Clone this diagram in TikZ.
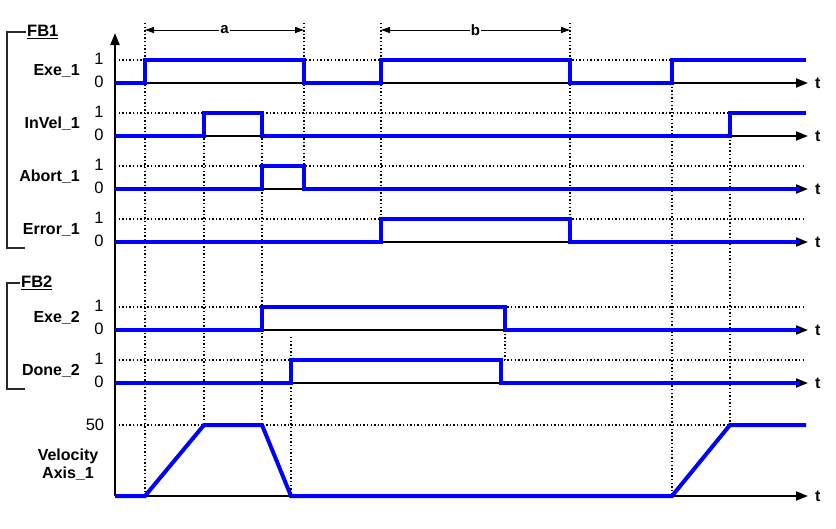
\documentclass[tikz,border=0pt]{standalone}
\usepackage{fontspec}
\setmainfont{Liberation Sans}
\usepackage{tikz}
\usetikzlibrary{arrows.meta, positioning}
\definecolor{sigblue}{RGB}{0,0,255}
\definecolor{brkgray}{RGB}{40,40,40}
\tikzset{
  sig/.style={line width=4pt, color=sigblue, line join=miter},
  guide/.style={line width=1.4pt, dash pattern=on 1.4pt off 2.2pt, color=black},
  base/.style={-{Triangle[length=12pt,width=9pt]}, line width=2pt, color=black},
  dimarrow/.style={{Triangle[length=9pt,width=6pt]}-{Triangle[length=9pt,width=6pt]}, line width=1pt},
  bracket/.style={line width=1.5pt, color=brkgray},
  siglabel/.style={font=\bfseries\fontsize{16}{18}\selectfont, anchor=east, inner sep=0pt},
  lvl/.style={font=\fontsize{16.5}{18}\selectfont, inner sep=0pt},
  tlabel/.style={font=\bfseries\fontsize{16}{18}\selectfont, inner sep=0pt},
  fblabel/.style={font=\bfseries\fontsize{16.5}{18}\selectfont, anchor=west, inner sep=1pt}
}
\begin{document}
\begin{tikzpicture}[x=1pt, y=-1pt]
  \useasboundingbox (0,0) rectangle (836,528);

  % group brackets
  \node[fblabel] (fbone) at (26,32) {\underline{FB1}};
  \draw[bracket] (fbone.west) -- (7,32) -- (7,248) -- (25,248);
  \node[fblabel] (fbtwo) at (20,283) {\underline{FB2}};
  \draw[bracket] (fbtwo.west) -- (7,283) -- (7,389) -- (25,389);

  % signal names
  \node[siglabel] (exeone) at (80,71) {Exe\_1};
  \node[siglabel] (invelone) at (80,124) {InVel\_1};
  \node[siglabel] (abortone) at (80,177) {Abort\_1};
  \node[siglabel] (errorone) at (80,230) {Error\_1};
  \node[siglabel] (exetwo) at (80,318) {Exe\_2};
  \node[siglabel] (donetwo) at (80,371) {Done\_2};
  \node[siglabel, anchor=center, align=center] (velo) at (68,465) {Velocity\\Axis\_1};

  % levels
  \node[lvl] (hione) at (99,59) {1};   \node[lvl] (loone) at (99,82) {0};
  \node[lvl] (hitwo) at (99,112) {1};  \node[lvl] (lotwo) at (99,135) {0};
  \node[lvl] (hithree) at (99,165) {1};\node[lvl] (lothree) at (99,188) {0};
  \node[lvl] (hifour) at (99,218) {1}; \node[lvl] (lofour) at (99,241) {0};
  \node[lvl] (hifive) at (99,306) {1}; \node[lvl] (lofive) at (99,329) {0};
  \node[lvl] (hisix) at (99,359) {1};  \node[lvl] (losix) at (99,382) {0};
  \node[lvl] (vmax) at (95,425) {50};

  % guide lines
  \foreach \y in {60,113,166,219,307,360}
    \draw[guide] (115,\y) -- (803,\y);
  \draw[guide] (115,425) -- (730,425);
  \draw[guide] (145,23) -- (145,496);
  \draw[guide] (204,113) -- (204,425);
  \draw[guide] (262,113) -- (262,425);
  \draw[guide] (304,23) -- (304,189);
  \draw[guide] (381,23) -- (381,219);
  \draw[guide] (570,23) -- (570,242);
  \draw[guide] (291,337) -- (291,496);
  \draw[guide] (505,330) -- (505,360);
  \draw[guide] (672,83) -- (672,496);
  \draw[guide] (730,136) -- (730,425);

  % time axes
  \draw[base] (115,496) -- (115,33);
  \foreach \y in {83,136,189,242,330,383,496}
    \draw[base] (115,\y) -- (808,\y) node[tlabel, right=6pt] {t};

  % intervals
  \draw[dimarrow] (145,30) -- node[fill=white, inner sep=1pt, font=\bfseries\fontsize{15}{17}\selectfont] (ia) {a} (304,30);
  \draw[dimarrow] (381,30) -- node[fill=white, inner sep=1pt, font=\bfseries\fontsize{15}{17}\selectfont] (ib) {b} (570,30);

  % signals
  \draw[sig] (115,83) -- (145,83) -- (145,60) -- (304,60) -- (304,83) -- (381,83) -- (381,60)
    -- (570,60) -- (570,83) -- (672,83) -- (672,60) -- (806,60);
  \draw[sig] (115,136) -- (204,136) -- (204,113) -- (262,113) -- (262,136) -- (730,136)
    -- (730,113) -- (806,113);
  \draw[sig] (115,189) -- (262,189) -- (262,166) -- (304,166) -- (304,189) -- (800,189);
  \draw[sig] (115,242) -- (381,242) -- (381,219) -- (570,219) -- (570,242) -- (800,242);
  \draw[sig] (115,330) -- (262,330) -- (262,307) -- (505,307) -- (505,330) -- (800,330);
  \draw[sig] (115,383) -- (291,383) -- (291,360) -- (501,360) -- (501,383) -- (800,383);
  \draw[sig] (115,496) -- (145,496) -- (204,425) -- (262,425) -- (291,496) -- (672,496)
    -- (730,425) -- (806,425);
\end{tikzpicture}
\end{document}
